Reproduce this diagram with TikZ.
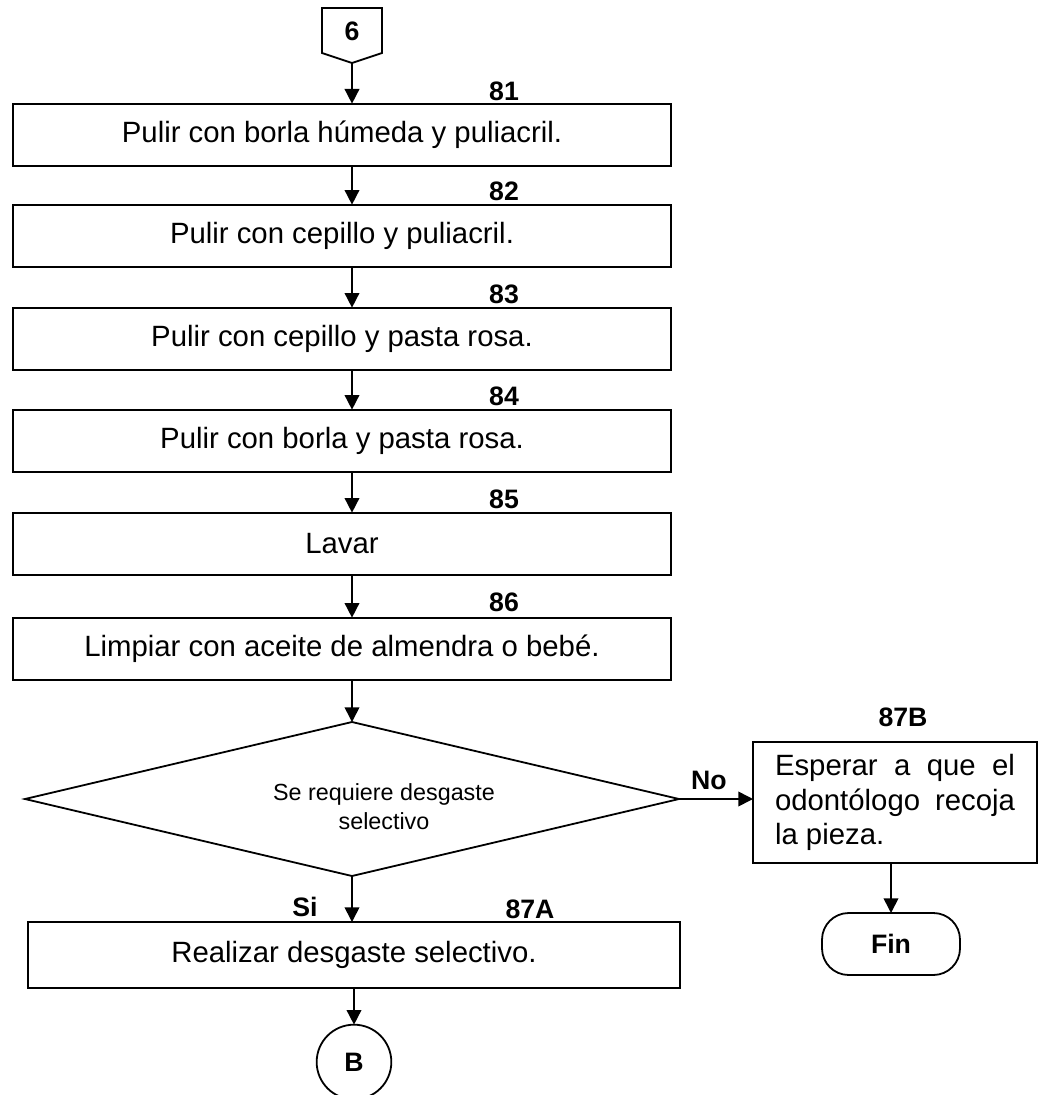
\documentclass[tikz,border=0pt]{standalone}
\usepackage{fontspec}
\setmainfont{Liberation Sans}
\usetikzlibrary{arrows.meta,shapes.geometric}
\begin{document}
\begin{tikzpicture}[x=0.75pt,y=-0.75pt,
  every node/.style={inner sep=0pt, outer sep=0pt},
  shapeline/.style={draw, line width=1.35pt},
  proc/.style={shapeline, minimum width=493.5pt, minimum height=47pt, font=\fontsize{22}{26}\selectfont},
  lbl/.style={font=\fontsize{20}{22}\selectfont\bfseries},
  arr/.style={line width=1.2pt, -{Triangle[length=11pt,width=11pt]}},
]
\useasboundingbox (0,0) rectangle (1038,1095);

% off-page connector 6
\node[lbl] (c6) at (352,31) {6};
\draw[shapeline] (322,8) -- (382,8) -- (382,53) -- (352,63) -- (322,53) -- cycle;
\coordinate (c6tip) at (352,63);

% process boxes
\node[proc] (b81) at (342,135) {Pulir con borla húmeda y puliacril.};
\node[proc] (b82) at (342,236) {Pulir con cepillo y puliacril.};
\node[proc] (b83) at (342,339) {Pulir con cepillo y pasta rosa.};
\node[proc] (b84) at (342,441) {Pulir con borla y pasta rosa.};
\node[proc] (b85) at (342,544) {Lavar};
\node[proc] (b86) at (342,649) {Limpiar con aceite de almendra o bebé.};

% step numbers
\node[lbl] (l81) at (504,91) {81};
\node[lbl] (l82) at (504,191) {82};
\node[lbl] (l83) at (504,294) {83};
\node[lbl] (l84) at (504,396) {84};
\node[lbl] (l85) at (504,499) {85};
\node[lbl] (l86) at (504,602) {86};

% decision
\node[shapeline, diamond, minimum width=490.5pt, minimum height=115.5pt] (dec) at (352,799) {};
\node[font=\fontsize{17.5}{21.75}\selectfont, align=center] (dectext) at (384,807) {Se requiere desgaste\\selectivo};

% branch Si
\node[proc, minimum width=489pt, minimum height=49.5pt] (b87a) at (354,955) {Realizar desgaste selectivo.};
\node[lbl] (l87a) at (530,909) {87A};
\node[lbl] (si) at (305,907) {Si};
\node[shapeline, circle, minimum size=56pt, lbl] (cB) at (354,1062) {B};

% branch No
\node[shapeline, minimum width=213pt, minimum height=90.75pt, font=\fontsize{22}{26}\selectfont, align=left] (b87b) at (895,802.5)
  {\makebox[180pt][s]{Esperar a que el}\\\makebox[180pt][s]{odontólogo recoja}\\la pieza.};
\node[lbl] (l87b) at (903,717) {87B};
\node[lbl] (no) at (709,780) {No};
\node[shapeline, rounded corners=20pt, minimum width=103.5pt, minimum height=46.5pt, lbl] (fin) at (891,944) {Fin};

% connectors
\draw[arr] (c6tip) -- (b81.north -| c6tip);
\draw[arr] (b81.south -| c6tip) -- (b82.north -| c6tip);
\draw[arr] (b82.south -| c6tip) -- (b83.north -| c6tip);
\draw[arr] (b83.south -| c6tip) -- (b84.north -| c6tip);
\draw[arr] (b84.south -| c6tip) -- (b85.north -| c6tip);
\draw[arr] (b85.south -| c6tip) -- (b86.north -| c6tip);
\draw[arr] (b86.south -| c6tip) -- (dec.north);
\draw[arr] (dec.south) -- (b87a.north -| dec.south);
\draw[arr] (b87a.south -| cB.north) -- (cB.north);
\draw[arr] (dec.east) -- (b87b.west |- dec.east);
\draw[arr] (b87b.south -| fin.north) -- (fin.north);
\end{tikzpicture}
\end{document}
